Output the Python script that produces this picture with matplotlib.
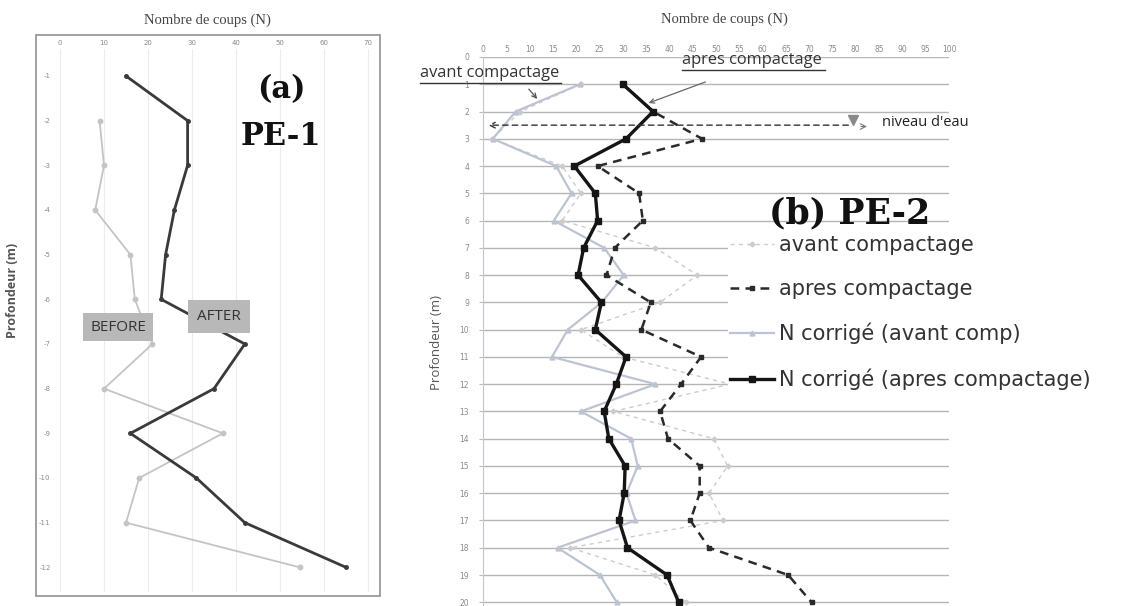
import numpy as np
import matplotlib
matplotlib.use('Agg')
import matplotlib.pyplot as plt
from matplotlib.lines import Line2D
from matplotlib.patches import Rectangle, FancyArrowPatch

plt.rcParams['axes.unicode_minus'] = False

# --- (a) PE-1 : profondeur negative, N avant / apres
prof_a = [-1, -2, -3, -4, -5, -6, -7, -8, -9, -10, -11, -12]
after_a = [15, 29, 29, 26, 24, 23, 42, 35, 16, 31, 42, 65]
prof_a_before = [-2, -3, -4, -5, -6, -7, -8, -9, -10, -11, -12]
before_a = [9, 10, 8, 16, 17, 21, 10, 37, 18, 15, 54.5]
xticks_a = [0, 10, 20, 30, 40, 50, 60, 70]

# --- (b) PE-2
prof_b = list(range(1, 21))
avant = [21, 8, 2, 17, 21, 17, 37, 46, 38, 21, 30, 53, 28, 49.5, 52.5, 48.5, 51.5, 18.7, 37, 43.5]
apres = [30, 36.5, 47, 24.6, 33.5, 34.3, 28.3, 26.5, 36, 34, 46.8, 42.5, 38, 39.7, 46.5, 46.5, 44.5, 48.5, 65.5, 70.5]
n_corr_avant = [20.8, 7, 2.1, 15.7, 19, 15.2, 26, 30.2, 25.5, 18.2, 14.8, 37, 21, 31.8, 33.2, 30.8, 32.7, 16, 25.1, 28.7]
n_corr_apres = [30, 36.5, 30.7, 19.6, 24.1, 24.6, 21.6, 20.4, 25.4, 24.1, 30.7, 28.6, 26, 27, 30.5, 30.3, 29.2, 31, 39.5, 42]
xticks_b = list(range(0, 101, 5))
yticks_b = list(range(0, 21))

W, H = 1125, 606
fig = plt.figure(figsize=(W / 100, H / 100), dpi=100)

def fx(x):
    return x / W

def fy(y):
    return 1 - y / H

# ---------------- panneau (a) ----------------
fig.add_artist(Rectangle((fx(36), fy(596)), fx(380) - fx(36), fy(35) - fy(596),
                         transform=fig.transFigure, fill=False, ec='#9a9a9a', lw=1.3))
ax1 = fig.add_axes([fx(53.4), fy(591.9), fx(372.4) - fx(53.4), fy(49.2) - fy(591.9)])
ax1.set_xlim(-1.5, 71)
ax1.set_ylim(-12.55, -0.4)
ax1.plot(before_a, prof_a_before, color='#c4c4c4', lw=1.3, marker='o', ms=3.2, mfc='#c4c4c4')
ax1.plot(after_a, prof_a, color='#3a3a3a', lw=2.0, marker='o', ms=2.5)
ax1.set_xticks(xticks_a)
ax1.set_yticks(prof_a)
ax1.xaxis.tick_top()
ax1.tick_params(axis='both', length=0, labelsize=5, labelcolor='#8a8a8a', pad=2)
ax1.grid(axis='x', color='#ececec', lw=0.8)
for s in ax1.spines.values():
    s.set_visible(False)
ax1.set_axisbelow(True)

fig.text(fx(207), fy(20), 'Nombre de coups (N)', family='Liberation Serif', fontsize=10.5,
         color='#444444', ha='center', va='center')
fig.text(fx(13), fy(290), 'Profondeur (m)', family='Open Sans', fontsize=9, weight='bold',
         color='#555555', rotation=90, ha='center', va='center')
fig.text(fx(281), fy(90), '(a)', family='DejaVu Serif', weight='bold', fontsize=22,
         ha='center', va='center', color='#111111')
fig.text(fx(281), fy(136), 'PE-1', family='DejaVu Serif', weight='bold', fontsize=22,
         ha='center', va='center', color='#111111')
ax1.text(13.2, -6.62, 'BEFORE', family='Open Sans', fontsize=11, color='#333333',
         ha='center', va='center',
         bbox=dict(boxstyle='square,pad=0.45', fc='#b8b8b8', ec='none'))
ax1.text(36.2, -6.38, 'AFTER', family='Open Sans', fontsize=11, color='#333333',
         ha='center', va='center',
         bbox=dict(boxstyle='square,pad=0.6', fc='#b8b8b8', ec='none'))

# ---------------- panneau (b) ----------------
ax2 = fig.add_axes([fx(483), fy(605), fx(949) - fx(483), fy(57) - fy(605)])
ax2.set_xlim(0, 100)
ax2.set_ylim(20.1, 0)
ax2.set_xticks(xticks_b)
ax2.set_yticks(yticks_b)
ax2.xaxis.tick_top()
ax2.tick_params(axis='x', length=0, labelsize=5.5, labelcolor='#8a8a8a', pad=2)
ax2.tick_params(axis='y', length=3, color='#bbbbbb', labelsize=5.5, labelcolor='#8a8a8a', pad=7)
ax2.grid(axis='y', color='#b5b5b5', lw=1.0)
for k in ['top', 'right', 'bottom']:
    ax2.spines[k].set_visible(False)
ax2.spines['left'].set_color('#c4c8d0')
ax2.set_axisbelow(True)

l1, = ax2.plot(avant, prof_b, color='#cccccc', lw=1.0, ls=(0, (3, 3)), marker='D', ms=2.5,
               label='avant compactage')
l3, = ax2.plot(n_corr_avant, prof_b, color='#bcc3d2', lw=1.6, marker='^', ms=3.5,
               label='N corrigé (avant comp)')
l2, = ax2.plot(apres, prof_b, color='#2a2a2a', lw=1.8, ls=(0, (3.5, 2.5)), marker='s', ms=2.5,
               label='apres compactage')
l4, = ax2.plot(n_corr_apres, prof_b, color='#151515', lw=2.4, marker='s', ms=4.5,
               label='N corrigé (apres compactage)')

# niveau d'eau
ax2.annotate('', xy=(0.5, 2.5), xytext=(79, 2.5),
             arrowprops=dict(arrowstyle='->', color='#333333', lw=1.0, ls=(0, (4, 3))))
ax2.plot([79.5], [2.3], marker='v', ms=7, color='#8a8a8a', clip_on=False)
ax2.annotate('', xy=(83, 2.55), xytext=(80.5, 2.55),
             arrowprops=dict(arrowstyle='->', color='#777777', lw=0.8))
fig.text(fx(882), fy(123), "niveau d'eau", family='Open Sans', fontsize=10.5,
         color='#222222', ha='left', va='center')

# etiquettes soulignees
fig.text(fx(420), fy(73), 'avant compactage', family='Open Sans', fontsize=11.8,
         color='#333333', ha='left', va='center')
fig.add_artist(Line2D([fx(420), fx(561)], [fy(83), fy(83)], color='#333333', lw=1.0))
fig.text(fx(682), fy(60), 'apres compactage', family='Open Sans', fontsize=11.8,
         color='#333333', ha='left', va='center')
fig.add_artist(Line2D([fx(682), fx(825)], [fy(70), fy(70)], color='#333333', lw=1.0))
fig.patches.append(FancyArrowPatch(
    (fx(527), fy(87)), (fx(539), fy(101)), transform=fig.transFigure,
    arrowstyle='->', mutation_scale=8, color='#555555', lw=0.9))
fig.patches.append(FancyArrowPatch(
    (fx(708), fy(81)), (fx(646), fy(104)), transform=fig.transFigure,
    arrowstyle='->', mutation_scale=8, color='#666666', lw=0.9))

fig.text(fx(850), fy(213), '(b) PE-2', family='DejaVu Serif', weight='bold', fontsize=25,
         ha='center', va='center', color='#111111')

fig.legend(handles=[l1, l2, l3, l4], loc='upper left', bbox_to_anchor=(fx(728), fy(233)),
           prop={'family': 'DejaVu Sans', 'size': 15}, frameon=True, facecolor='white',
           edgecolor='none', framealpha=1, handlelength=2.1, handletextpad=0.25,
           labelspacing=1.15, borderpad=0.1, borderaxespad=0, labelcolor='#333333')

fig.text(fx(724), fy(19), 'Nombre de coups (N)', family='Liberation Serif', fontsize=10.5,
         color='#444444', ha='center', va='center')
fig.text(fx(437), fy(343), 'Profondeur (m)', family='Open Sans', fontsize=9.5,
         color='#555555', rotation=90, ha='center', va='center')

fig.savefig('out.png', dpi=100)
